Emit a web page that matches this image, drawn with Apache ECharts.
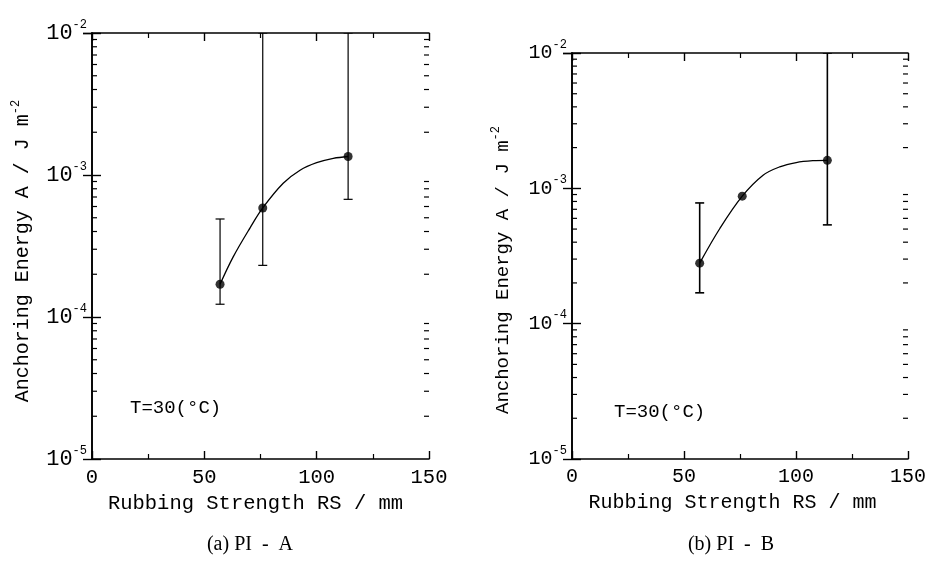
<!DOCTYPE html>
<html>
<head>
<meta charset="utf-8">
<script src="https://cdn.jsdelivr.net/npm/echarts@6/dist/echarts.min.js"></script>
<style>html,body{margin:0;padding:0;background:#fff;}#c{width:929px;height:569px;}</style>
</head>
<body>
<div id="c"></div>
<script>
// ---- data ----
var rsA = [57, 76, 114];
var energyA = [1.70e-4, 5.86e-4, 1.35e-3];
var errLowA = [1.23e-4, 2.31e-4, 6.74e-4];
var errHighA = [4.9e-4, 1e-2, 1e-2];
var curveAx = [57, 62.9, 70.3, 76, 85.1, 92.6, 100, 107.4, 114];
var curveAy = [1.70e-4, 2.66e-4, 4.23e-4, 5.86e-4, 8.74e-4, 1.08e-3, 1.22e-3, 1.31e-3, 1.35e-3];

var rsB = [57, 76, 114];
var energyB = [2.80e-4, 8.75e-4, 1.61e-3];
var errLowB = [1.69e-4, null, 5.37e-4];
var errHighB = [7.8e-4, null, 1e-2];
var curveBx = [57, 66, 76, 85.3, 92.7, 100.1, 107.5, 114];
var curveBy = [2.80e-4, 5.05e-4, 8.75e-4, 1.25e-3, 1.44e-3, 1.55e-3, 1.60e-3, 1.61e-3];

var xTicks = [0, 50, 100, 150];
var yDecades = [1e-5, 1e-4, 1e-3, 1e-2];
var yMinorTicks = [];
for (var d = 0; d < yDecades.length - 1; d++) {
  for (var m = 2; m <= 9; m++) yMinorTicks.push(m * yDecades[d]);
}
var captions = ['(a) PI  -  A', '(b) PI  -  B'];
var tempLabel = 'T=30(°C)';

var MONO = '"Liberation Mono", "DejaVu Sans Mono", monospace';

function pairs(xs, ys) { return xs.map(function (x, i) { return [x, ys[i]]; }); }
function errData(xs, lo, hi) {
  var out = [];
  xs.forEach(function (x, i) { if (lo[i] != null) out.push([x, lo[i], hi[i]]); });
  return out;
}

function xAxes(grid, fs, pad) {
  var base = {
    type: 'value', gridIndex: grid, min: xTicks[0], max: xTicks[xTicks.length - 1], interval: 50,
    axisLine: { show: true, lineStyle: { color: '#000', width: 1.6 } },
    axisTick: { show: true, inside: true, length: 8, lineStyle: { color: '#000', width: 1.4 } },
    minorTick: { show: true, splitNumber: 2, length: 5, lineStyle: { color: '#000', width: 1.2 } },
    splitLine: { show: false }, minorSplitLine: { show: false }
  };
  var bottom = Object.assign({}, base, {
    position: 'bottom',
    name: 'Rubbing Strength RS / mm', nameLocation: 'middle', nameGap: 34,
    nameTextStyle: { fontFamily: MONO, fontSize: fs, color: '#000', padding: [0, pad, 0, 0] },
    axisLabel: { show: true, margin: 8, fontFamily: MONO, fontSize: fs, color: '#000' }
  });
  var top = Object.assign({}, base, { position: 'top', axisLabel: { show: false } });
  return [bottom, top];
}

function yAxes(grid, fs, lfs, pad) {
  var base = {
    type: 'log', logBase: 10, gridIndex: grid, min: yDecades[0], max: yDecades[yDecades.length - 1], interval: 1,
    axisLine: { show: true, lineStyle: { color: '#000', width: 1.6 } },
    axisTick: { show: true, inside: true, length: 9, lineStyle: { color: '#000', width: 1.4 } },
    splitLine: { show: false }
  };
  var left = Object.assign({}, base, {
    position: 'left',
    name: 'Anchoring Energy A / J m{s|-2}', nameLocation: 'middle', nameGap: 56,
    nameTextStyle: {
      fontFamily: MONO, fontSize: fs, color: '#000', padding: [0, pad, 0, 0],
      rich: { s: { fontFamily: MONO, fontSize: 12, color: '#000', padding: [0, 0, 14, 0] } }
    },
    axisLabel: {
      show: true, margin: 5,
      formatter: function (v) { return '{b|10}{s|' + Math.round(Math.log10(v)) + '}'; },
      rich: {
        b: { fontFamily: MONO, fontSize: lfs, color: '#000' },
        s: { fontFamily: MONO, fontSize: 12, color: '#000', padding: [0, 0, 17, 0] }
      }
    }
  });
  var right = Object.assign({}, base, { position: 'right', axisLabel: { show: false } });
  return [left, right];
}

function seriesFor(grid, cx, cy, xs, ys, lo, hi, barW) {
  var xi = grid * 2, yi = grid * 2;
  return [
    {
      type: 'line', xAxisIndex: xi, yAxisIndex: yi, data: pairs(cx, cy),
      smooth: 0.35, showSymbol: false, symbol: 'none',
      lineStyle: { color: '#000', width: 1.3 }, z: 3, silent: true
    },
    {
      type: 'custom', xAxisIndex: xi, yAxisIndex: yi, data: errData(xs, lo, hi), z: 2, clip: true,
      renderItem: function (params, api) {
        var x = api.value(0);
        var b = api.coord([x, api.value(1)]);
        var t = api.coord([x, api.value(2)]);
        var c = 4.5;
        var st = { stroke: '#000', lineWidth: barW };
        return { type: 'group', children: [
          { type: 'line', shape: { x1: b[0], y1: b[1], x2: t[0], y2: t[1] }, style: st },
          { type: 'line', shape: { x1: b[0] - c, y1: b[1], x2: b[0] + c, y2: b[1] }, style: st },
          { type: 'line', shape: { x1: t[0] - c, y1: t[1], x2: t[0] + c, y2: t[1] }, style: st }
        ] };
      }
    },
    {
      type: 'scatter', xAxisIndex: xi, yAxisIndex: yi, data: pairs(xs, ys),
      symbol: 'circle', symbolSize: 9, itemStyle: { color: '#000' }, z: 4, silent: true
    },
    {
      type: 'custom', xAxisIndex: xi, yAxisIndex: yi, z: 1, silent: true,
      data: yMinorTicks.map(function (v) { return [xTicks[0], v]; }),
      renderItem: function (params, api) {
        var v = api.value(1);
        var pl = api.coord([xTicks[0], v]);
        var pr = api.coord([xTicks[xTicks.length - 1], v]);
        var st = { stroke: '#000', lineWidth: 1.2 };
        return { type: 'group', children: [
          { type: 'line', shape: { x1: pl[0], y1: pl[1], x2: pl[0] + 5, y2: pl[1] }, style: st },
          { type: 'line', shape: { x1: pr[0] - 5, y1: pr[1], x2: pr[0], y2: pr[1] }, style: st }
        ] };
      }
    }
  ];
}

var chart = echarts.init(document.getElementById('c'), null, { renderer: 'canvas' });
chart.setOption({
  backgroundColor: '#fff',
  animation: false,
  grid: [
    { left: 92, top: 33, width: 337, height: 426 },
    { left: 572, top: 53, width: 337, height: 406 }
  ],
  xAxis: xAxes(0, 20.5, 10).concat(xAxes(1, 20, 15)),
  yAxis: yAxes(0, 20, 22, 10).concat(yAxes(1, 19, 20, 28)),
  series: seriesFor(0, curveAx, curveAy, rsA, energyA, errLowA, errHighA, 1.2)
    .concat(seriesFor(1, curveBx, curveBy, rsB, energyB, errLowB, errHighB, 1.6)),
  graphic: [
    { type: 'text', x: 130, y: 408, style: { text: tempLabel, font: '19px ' + MONO, fill: '#000', align: 'left', verticalAlign: 'middle' } },
    { type: 'text', x: 614, y: 412, style: { text: tempLabel, font: '19px ' + MONO, fill: '#000', align: 'left', verticalAlign: 'middle' } },
    { type: 'text', x: 250, y: 545, style: { text: captions[0], font: '20px "Liberation Serif", serif', fill: '#000', align: 'center', verticalAlign: 'middle' } },
    { type: 'text', x: 731, y: 545, style: { text: captions[1], font: '20px "Liberation Serif", serif', fill: '#000', align: 'center', verticalAlign: 'middle' } }
  ]
});
</script>
</body>
</html>
